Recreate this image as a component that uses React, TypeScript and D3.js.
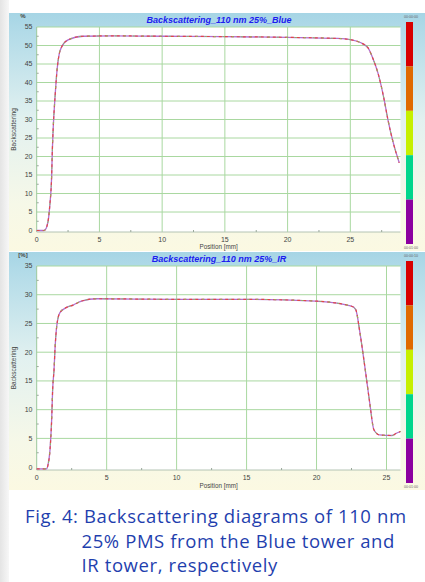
import React from 'react'
import * as d3 from 'd3'

// Blue tower scan (position mm, backscattering %)
const bluePos = [0, 0.6, 0.7, 0.8, 0.95, 1.05, 1.19, 1.25, 1.32, 1.46, 1.64, 1.8, 2.0, 2.5, 3.7, 6, 10, 15, 20, 24, 25.1, 25.8, 26.4, 26.8, 27.2, 27.7, 28.0, 28.4, 28.9]
const blueVal = [0, 0, 0.3, 1.0, 3.5, 7, 14.6, 22, 28, 36, 44, 47.8, 49.7, 51.5, 52.5, 52.6, 52.5, 52.4, 52.2, 51.9, 51.5, 50.8, 49.4, 46.5, 42.6, 35.3, 29.9, 24, 18.3]

// IR tower scan
const irPos = [0, 0.7, 0.8, 0.95, 1.07, 1.14, 1.24, 1.31, 1.43, 1.66, 2.14, 2.6, 3.2, 4.3, 10, 14.9, 19.9, 22.5, 22.8, 23.1, 23.45, 23.8, 24.1, 24.5, 25.4, 25.7, 26.0]
const irVal = [-0.3, -0.3, 0.3, 3.0, 8.3, 13.5, 17, 20.6, 24.5, 26.9, 27.8, 28.2, 28.9, 29.3, 29.2, 29.2, 28.9, 28.0, 27.4, 23.4, 17.5, 11.2, 6.5, 5.6, 5.5, 5.9, 6.2]

const xTicks = [0, 5, 10, 15, 20, 25]
const blueYTicks = [0, 5, 10, 15, 20, 25, 30, 35, 40, 45, 50, 55]
const irYTicks = [0, 5, 10, 15, 20, 25, 30, 35]
const barColors = ['#d80000', '#e06a00', '#c6f000', '#00d68c', '#8c00a0']

const caption = [
  'Fig. 4: Backscattering diagrams of 110 nm',
  '25% PMS from the Blue tower and',
  'IR tower, respectively',
]

type PanelProps = {
  top: number
  bottom: number
  title: string
  unit: string
  xs: number[]
  ys: number[]
  xMax: number
  yMin: number
  yMax: number
  yTicks: number[]
  plotTop: number
  plotBottom: number
  timeTop: string
  timeBottom: string
}

const Panel = (p: PanelProps) => {
  const x = d3.scaleLinear().domain([0, p.xMax]).range([36.7, 400.5])
  const y = d3.scaleLinear().domain([p.yMin, p.yMax]).range([p.plotBottom, p.plotTop])
  const data = p.xs.map((v, i) => [v, p.ys[i]] as [number, number])
  const line = d3.line<[number, number]>().x(d => x(d[0])).y(d => y(d[1])).curve(d3.curveMonotoneX)
  const path = line(data) || ''
  const xMinor = d3.range(2.5, p.xMax, 5)
  const yMinor = d3.range(2.5, p.yMax, 5)
  const [x0, x1] = x.range()
  const midY = (p.plotTop + p.plotBottom) / 2
  const barTop = p.top + 9
  const barH = (p.bottom - 7 - barTop) / barColors.length

  return (
    <g>
      <rect x={9} y={p.top} width={416} height={p.bottom - p.top} fill="url(#panelBg)" />
      <rect x={x0} y={p.plotTop} width={x1 - x0} height={p.plotBottom - p.plotTop} fill="#fff" />
      {blueYTicks.filter(t => t > 0 && t <= p.yMax).map(t => (
        <line key={'gy' + t} x1={x0} x2={x1} y1={y(t)} y2={y(t)} stroke="#a9d8a0" strokeWidth={1} />
      ))}
      {xTicks.filter(t => t > 0).map(t => (
        <line key={'gx' + t} x1={x(t)} x2={x(t)} y1={p.plotTop} y2={p.plotBottom} stroke="#a9d8a0" strokeWidth={1} />
      ))}
      <line x1={x0} x2={x1} y1={p.plotBottom} y2={p.plotBottom} stroke="#b4c4b4" />
      <line x1={x0} x2={x0} y1={p.plotTop} y2={p.plotBottom} stroke="#9cc89c" />
      {xMinor.map(t => (
        <line key={'mx' + t} x1={x(t)} x2={x(t)} y1={p.plotBottom} y2={p.plotBottom - 2} stroke="#9aa89a" />
      ))}
      {yMinor.map(t => (
        <line key={'my' + t} x1={x0} x2={x0 + 2} y1={y(t)} y2={y(t)} stroke="#9aa89a" />
      ))}
      <path d={path} fill="none" stroke="#b070d0" strokeWidth={1.3} />
      <path d={path} fill="none" stroke="#e04848" strokeWidth={1.2} strokeDasharray="3,3" />
      <path d={path} fill="none" stroke="#8cbc60" strokeWidth={1} strokeDasharray="2,7" strokeDashoffset={2} />
      <g fontFamily="Liberation Sans, Arial, sans-serif" fontSize={7} fill="#444">
        {p.yTicks.map(t => (
          <text key={'ty' + t} x={32.5} y={y(t) + 2.4} textAnchor="end">{t}</text>
        ))}
        {xTicks.map(t => (
          <text key={'tx' + t} x={x(t)} y={p.plotBottom + 9.5} textAnchor="middle">{t}</text>
        ))}
        <text x={(x0 + x1) / 2} y={p.bottom - 2} textAnchor="middle" fontSize={6.3}>Position [mm]</text>
        <text x={23} y={p.top + 5} textAnchor="middle" fontSize={6} fontWeight="bold">{p.unit}</text>
        <text transform={`translate(16,${midY}) rotate(-90)`} textAnchor="middle" fontSize={6.5}>Backscattering</text>
      </g>
      <text x={219} y={p.top + 9.5} textAnchor="middle" fontFamily="Liberation Sans, Arial, sans-serif"
        fontSize={9} fontWeight="bold" fontStyle="italic" fill="#1c1cf0">{p.title}</text>
      {barColors.map((c, i) => (
        <rect key={c} x={406} y={barTop + i * barH} width={7} height={barH} fill={c} />
      ))}
      <g fontFamily="Liberation Sans, Arial, sans-serif" fontSize={3.6} fill="#666">
        <text x={404} y={p.top + 5}>{p.timeTop}</text>
        <text x={404} y={p.bottom - 2.5}>{p.timeBottom}</text>
      </g>
    </g>
  )
}

export default function App() {
  return (
    <svg width={425} height={582} style={{ position: 'absolute', left: 0, top: 0 }}>
      <defs>
        <linearGradient id="panelBg" x1="0" y1="0" x2="0" y2="1">
          <stop offset="0" stopColor="#a6d5e5" />
          <stop offset="0.08" stopColor="#b2dbe8" />
          <stop offset="0.45" stopColor="#e2f1f0" />
          <stop offset="0.8" stopColor="#f6f8e8" />
          <stop offset="1" stopColor="#fbf9e2" />
        </linearGradient>
        <linearGradient id="edge" x1="0" y1="0" x2="1" y2="0">
          <stop offset="0" stopColor="#e4e4e4" />
          <stop offset="1" stopColor="#f7f7f7" />
        </linearGradient>
      </defs>
      <rect width={425} height={582} fill="#fff" />
      <rect x={0} y={0} width={9} height={582} fill="url(#edge)" />
      <Panel top={13} bottom={251} title="Backscattering_110 nm 25%_Blue" unit="%"
        xs={bluePos} ys={blueVal} xMax={29} yMin={-0.4} yMax={55} yTicks={blueYTicks}
        plotTop={27} plotBottom={232} timeTop="00:00:00" timeBottom="00:01:00" />
      <Panel top={252} bottom={490} title="Backscattering_110 nm 25%_IR" unit="[%]"
        xs={irPos} ys={irVal} xMax={26} yMin={-0.5} yMax={35} yTicks={irYTicks}
        plotTop={266} plotBottom={470} timeTop="00:00:10" timeBottom="00:01:00" />
      <g fontFamily="Open Sans, Noto Sans, sans-serif" fontSize={18.5} letterSpacing={0.6} fill="#1f3fae">
        <text x={25} y={523}>{caption[0]}</text>
        <text x={81.5} y={548}>{caption[1]}</text>
        <text x={81.5} y={572}>{caption[2]}</text>
      </g>
    </svg>
  )
}
